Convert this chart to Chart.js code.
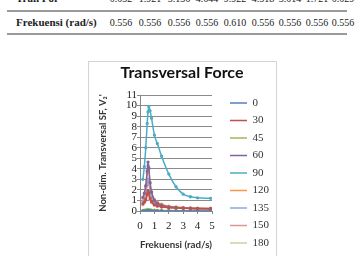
<!DOCTYPE html>
<html>
<head>
<meta charset="utf-8">
<script src="https://cdn.jsdelivr.net/npm/chart.js@4/dist/chart.umd.min.js"></script>
<style>
  html,body{margin:0;padding:0;background:#fff;width:361px;height:256px;overflow:hidden;}
  .tbl{position:absolute;left:0;top:0;width:361px;height:40px;font-family:"Liberation Serif",serif;color:#222;}
  .row{position:absolute;left:0;width:361px;height:14px;}
  .hdr{position:absolute;left:16px;font-weight:bold;font-size:11px;white-space:nowrap;}
  .val{position:absolute;font-size:10px;width:30px;text-align:center;}
  .hline{position:absolute;left:7px;width:340px;height:2px;background:#9a9a9a;}
  #box{position:absolute;left:88px;top:61px;width:189px;height:210px;box-sizing:border-box;border:1px solid #cdd5dd;}
  #c{position:absolute;left:88px;top:61px;}
</style>
</head>
<body>
<div class="tbl" id="tbl"></div>
<div id="box"></div>
<canvas id="c" width="188" height="195"></canvas>
<script>
// ---- table data ----
const tableHeaders = ["Tran For", "Frekuensi (rad/s)"];
const tranForce = ["0.032","1.921","3.136","4.644","9.922","4.318","3.014","1.721","0.029"];
const peakFreq  = ["0.556","0.556","0.556","0.556","0.610","0.556","0.556","0.556","0.556"];

// ---- chart data ----
const headings = ["0","30","45","60","90","120","135","150","180"];
const freq = [0.2,0.3,0.4,0.5,0.556,0.61,0.7,0.8,1.0,1.2,1.5,2.0,2.5,3.0,3.5,4.0,4.9];
const s0   = [0.01,0.015,0.02,0.028,0.032,0.03,0.025,0.02,0.015,0.012,0.01,0.01,0.01,0.01,0.01,0.01,0.01];
const s30  = [0.7,0.85,1.1,1.6,1.92,1.7,1.2,0.9,0.6,0.5,0.4,0.32,0.28,0.25,0.23,0.22,0.2];
const s45  = [0.05,0.07,0.09,0.12,0.14,0.13,0.11,0.09,0.07,0.06,0.05,0.04,0.03,0.03,0.03,0.03,0.03];
const s60  = [1.3,1.7,2.4,3.8,4.64,4.1,2.7,1.8,1.0,0.75,0.55,0.4,0.33,0.29,0.26,0.24,0.22];
const s90  = [3.0,4.2,6.0,8.3,9.4,9.92,9.5,8.8,7.2,6.4,5.2,3.5,2.3,1.6,1.35,1.25,1.2];
const s120 = [1.2,1.6,2.3,3.6,4.32,3.9,2.6,1.8,1.1,0.85,0.65,0.45,0.38,0.33,0.3,0.28,0.26];
const s135 = [0.9,1.2,1.7,2.5,3.01,2.7,1.8,1.3,0.8,0.6,0.45,0.35,0.3,0.27,0.25,0.23,0.22];
const s150 = [0.6,0.8,1.0,1.45,1.72,1.55,1.1,0.8,0.55,0.45,0.38,0.32,0.28,0.25,0.23,0.22,0.2];
const s180 = [0.01,0.015,0.02,0.026,0.029,0.027,0.022,0.018,0.014,0.012,0.01,0.01,0.01,0.01,0.01,0.01,0.01];
const seriesValues = [s0,s30,s45,s60,s90,s120,s135,s150,s180];
const colors = ["#4F81BD","#C0504D","#9BBB59","#8064A2","#4BACC6","#F79646","#8EA9D3","#D99694","#C3D69B"];
const yTicks = [0,1,2,3,4,5,6,7,8,9,10,11];
const xTicks = [0,1,2,3,4,5];

// ---- build table ----
const tbl = document.getElementById('tbl');
const colCenters = [121,150,179,207,235,263,290,317,343];
function addRow(top, header, vals){
  const r = document.createElement('div'); r.className='row'; r.style.top=top+'px';
  const h = document.createElement('div'); h.className='hdr'; h.textContent=header; h.style.top='0px'; r.appendChild(h);
  vals.forEach((v,i)=>{const d=document.createElement('div'); d.className='val'; d.textContent=v; d.style.left=(colCenters[i]-15)+'px'; d.style.top='1px'; r.appendChild(d);});
  tbl.appendChild(r);
}
addRow(-8, tableHeaders[0], tranForce);
addRow(16, tableHeaders[1], peakFreq);
[10,33].forEach(t=>{const l=document.createElement('div'); l.className='hline'; l.style.top=t+'px'; tbl.appendChild(l);});

// ---- chart ----
const datasets = headings.map((h,i)=>({
  label: h,
  data: freq.map((f,j)=>({x:f, y:seriesValues[i][j]})),
  borderColor: colors[i],
  backgroundColor: colors[i],
  borderWidth: 1.5,
  pointRadius: 0.9,
  pointHoverRadius: 0.9,
  pointStyle: 'circle',
  showLine: true,
  cubicInterpolationMode: 'monotone'
}));

new Chart(document.getElementById('c'), {
  type: 'scatter',
  data: { datasets },
  options: {
    responsive: false,
    animation: false,
    devicePixelRatio: 1,
    layout: { padding: 0 },
    plugins: {
      tooltip: { enabled: false },
      title: {
        display: true,
        text: 'Transversal Force',
        font: { family: 'Lato', weight: 'bold', size: 16, lineHeight: 1.2 },
        color: '#111',
        padding: { top: 2, bottom: 12.8 }
      },
      legend: {
        position: 'right',
        align: 'start',
        maxWidth: 52.5,
        title: { display: true, text: '', font: { size: 10, lineHeight: '30px' }, padding: 0 },
        labels: {
          usePointStyle: true,
          pointStyle: 'line',
          pointStyleWidth: 17,
          padding: 6.5,
          color: '#333',
          font: { family: 'Liberation Serif', size: 11 },
          generateLabels(chart) {
            return chart.data.datasets.map((d,i)=>({
              text: d.label, strokeStyle: d.borderColor, fillStyle: d.borderColor,
              lineWidth: 1.5, pointStyle: 'line', datasetIndex: i, hidden: false, fontColor: '#333'
            }));
          }
        }
      }
    },
    scales: {
      x: {
        type: 'linear', min: 0, max: 5,
        afterBuildTicks(s){ s.ticks = xTicks.map(v=>({value:v})); },
        afterFit(s){ s.height = 45; },
        grid: { display: true, drawOnChartArea: false, drawTicks: true, tickLength: 3, color: '#868686' },
        border: { display: true, color: '#868686' },
        ticks: { autoSkip: false, padding: 6, color: '#222', font: { family: 'Liberation Serif', size: 11 }, maxRotation: 0 },
        title: { display: true, text: 'Frekuensi (rad/s)', color: '#333',
          font: { family: 'Lato', weight: 'bold', size: 10, lineHeight: 1.2 }, padding: { top: 0, bottom: 5 } }
      },
      y: {
        type: 'linear', min: 0, max: 11,
        afterBuildTicks(s){ s.ticks = yTicks.map(v=>({value:v})); },
        afterFit(s){ s.width = 52; },
        grid: { display: true, drawTicks: true, tickLength: 3, color: '#8a8a8a' },
        border: { display: true, color: '#868686' },
        ticks: { autoSkip: false, padding: 0, color: '#222', font: { family: 'Liberation Serif', size: 11 } },
        title: { display: true, text: "Non-dim. Transversal SF, V\u2082'", color: '#333',
          font: { family: 'Lato', weight: 'bold', size: 9.5, lineHeight: 1.2 }, padding: { top: 9, bottom: 0 } }
      },
      yRight: {
        type: 'linear', position: 'right', display: true,
        afterFit(s){ s.width = 11.5; },
        grid: { display: false }, border: { display: false }, ticks: { display: false }
      }
    }
  }
});
</script>
</body>
</html>
